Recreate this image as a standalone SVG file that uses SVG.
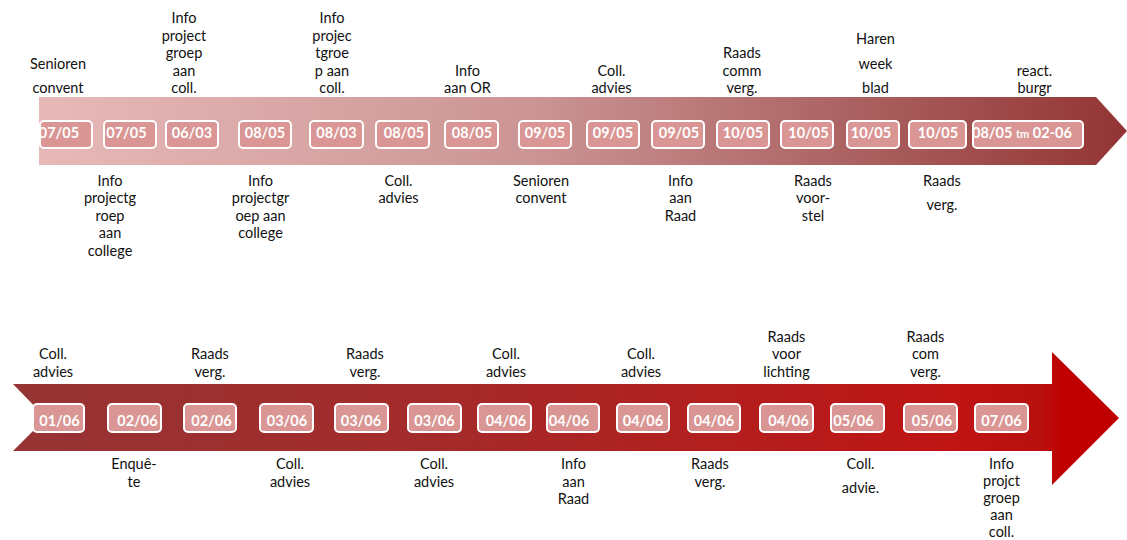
<svg xmlns="http://www.w3.org/2000/svg" width="1127" height="540" viewBox="0 0 1127 540">
<defs>
<linearGradient id="gTop" x1="39" y1="0" x2="1127" y2="0" gradientUnits="userSpaceOnUse">
<stop offset="0" stop-color="#e6b9b8"/>
<stop offset="0.45" stop-color="#cc9595"/>
<stop offset="0.7" stop-color="#b06a6a"/>
<stop offset="1" stop-color="#933434"/>
</linearGradient>
<linearGradient id="gBot" x1="13" y1="0" x2="1119" y2="0" gradientUnits="userSpaceOnUse">
<stop offset="0" stop-color="#963434"/>
<stop offset="0.4" stop-color="#a52a2a"/>
<stop offset="0.85" stop-color="#bf1414"/>
<stop offset="0.93" stop-color="#b80f0f"/>
<stop offset="0.95" stop-color="#c00000"/>
<stop offset="1" stop-color="#c00000"/>
</linearGradient>
<style>
.box{fill:#d99694;stroke:#ffffff;stroke-width:2}
.dt{font-family:Lato,"Open Sans",sans-serif;font-weight:bold;font-size:14.5px;fill:#ffffff;text-anchor:middle}
.lb{font-family:Lato,"Open Sans",sans-serif;font-size:14.5px;fill:#111111;text-anchor:middle}
</style>
</defs>
<rect width="1127" height="540" fill="#ffffff"/>
<g id="arrows">
<path d="M39,97 H1096 L1127,131 L1096,165 H39 Z" fill="url(#gTop)"/>
<path d="M13,384 H1052 V352 L1119,418 L1052,485 V451 H13 L46,418 Z" fill="url(#gBot)"/>
</g>
<g id="connectors"></g>
<!-- top row dates -->
<g id="t1"><rect class="box" x="40" y="121" width="52" height="27" rx="4"/><text class="dt" x="59" y="137.5">07/05</text></g>
<g id="t2"><rect class="box" x="104" y="121" width="52" height="27" rx="4"/><text class="dt" x="126.5" y="137.5">07/05</text></g>
<g id="t3"><rect class="box" x="166" y="121" width="52" height="27" rx="4"/><text class="dt" x="192" y="137.5">06/03</text></g>
<g id="t4"><rect class="box" x="239" y="121" width="52" height="27" rx="4"/><text class="dt" x="265" y="137.5">08/05</text></g>
<g id="t5"><rect class="box" x="310" y="121" width="53" height="27" rx="4"/><text class="dt" x="336.5" y="137.5">08/03</text></g>
<g id="t6"><rect class="box" x="376" y="121" width="53" height="27" rx="4"/><text class="dt" x="404" y="137.5">08/05</text></g>
<g id="t7"><rect class="box" x="445" y="121" width="53" height="27" rx="4"/><text class="dt" x="472" y="137.5">08/05</text></g>
<g id="t8"><rect class="box" x="519" y="121" width="52" height="27" rx="4"/><text class="dt" x="545" y="137.5">09/05</text></g>
<g id="t9"><rect class="box" x="587" y="121" width="52" height="27" rx="4"/><text class="dt" x="613" y="137.5">09/05</text></g>
<g id="t10"><rect class="box" x="652" y="121" width="52" height="27" rx="4"/><text class="dt" x="679" y="137.5">09/05</text></g>
<g id="t11"><rect class="box" x="717" y="121" width="52" height="27" rx="4"/><text class="dt" x="743" y="137.5">10/05</text></g>
<g id="t12"><rect class="box" x="781" y="121" width="52" height="27" rx="4"/><text class="dt" x="808.5" y="137.5">10/05</text></g>
<g id="t13"><rect class="box" x="847" y="121" width="52" height="27" rx="4"/><text class="dt" x="871" y="137.5">10/05</text></g>
<g id="t14"><rect class="box" x="909" y="121" width="57" height="27" rx="4"/><text class="dt" x="938" y="137.5">10/05</text></g>
<g id="t15"><rect class="box" x="973" y="121" width="110" height="27" rx="4"/><text class="dt" x="972" y="137.5" style="text-anchor:start">08/05 <tspan font-size="11">tm</tspan> 02-06</text></g>
<!-- bottom row dates -->
<g id="b1"><rect class="box" x="33" y="404" width="51" height="28" rx="4"/><text class="dt" x="59.5" y="425.5">01/06</text></g>
<g id="b2"><rect class="box" x="108" y="404" width="53" height="28" rx="4"/><text class="dt" x="137.5" y="425.5">02/06</text></g>
<g id="b3"><rect class="box" x="184" y="404" width="52" height="28" rx="4"/><text class="dt" x="211.5" y="425.5">02/06</text></g>
<g id="b4"><rect class="box" x="260" y="404" width="53" height="28" rx="4"/><text class="dt" x="287" y="425.5">03/06</text></g>
<g id="b5"><rect class="box" x="335" y="404" width="53" height="28" rx="4"/><text class="dt" x="361" y="425.5">03/06</text></g>
<g id="b6"><rect class="box" x="408" y="404" width="53" height="28" rx="4"/><text class="dt" x="434.5" y="425.5">03/06</text></g>
<g id="b7"><rect class="box" x="478" y="404" width="53" height="28" rx="4"/><text class="dt" x="506" y="425.5">04/06</text></g>
<g id="b8"><rect class="box" x="547" y="404" width="52" height="28" rx="4"/><text class="dt" x="569" y="425.5">04/06</text></g>
<g id="b9"><rect class="box" x="617" y="404" width="52" height="28" rx="4"/><text class="dt" x="643" y="425.5">04/06</text></g>
<g id="b10"><rect class="box" x="688" y="404" width="52" height="28" rx="4"/><text class="dt" x="714" y="425.5">04/06</text></g>
<g id="b11"><rect class="box" x="760" y="404" width="53" height="28" rx="4"/><text class="dt" x="788.5" y="425.5">04/06</text></g>
<g id="b12"><rect class="box" x="831" y="404" width="53" height="28" rx="4"/><text class="dt" x="853.5" y="425.5">05/06</text></g>
<g id="b13"><rect class="box" x="904" y="404" width="53" height="28" rx="4"/><text class="dt" x="932" y="425.5">05/06</text></g>
<g id="b14"><rect class="box" x="975" y="404" width="53" height="28" rx="4"/><text class="dt" x="1001.5" y="425.5">07/06</text></g>
<!-- labels above top arrow -->
<g id="la1"><text class="lb" x="58" y="69">Senioren</text><text class="lb" x="58" y="93.3">convent</text></g>
<g id="la2"><text class="lb" x="184" y="23.3">Info</text><text class="lb" x="184" y="40.8">project</text><text class="lb" x="184" y="58.3">groep</text><text class="lb" x="184" y="75.8">aan</text><text class="lb" x="184" y="93.3">coll.</text></g>
<g id="la3"><text class="lb" x="332" y="23.3">Info</text><text class="lb" x="332" y="40.8">projec</text><text class="lb" x="332" y="58.3">tgroe</text><text class="lb" x="332" y="75.8">p aan</text><text class="lb" x="332" y="93.3">coll.</text></g>
<g id="la4"><text class="lb" x="467.5" y="75.8">Info</text><text class="lb" x="467.5" y="93.3">aan OR</text></g>
<g id="la5"><text class="lb" x="611.5" y="75.8">Coll.</text><text class="lb" x="611.5" y="93.3">advies</text></g>
<g id="la6"><text class="lb" x="742" y="58.3">Raads</text><text class="lb" x="742" y="75.8">comm</text><text class="lb" x="742" y="93.3">verg.</text></g>
<g id="la7"><text class="lb" x="875.5" y="44.3">Haren</text><text class="lb" x="875.5" y="68.5">week</text><text class="lb" x="875.5" y="93.3">blad</text></g>
<g id="la8"><text class="lb" x="1034.5" y="75.8">react.</text><text class="lb" x="1034.5" y="93.3">burgr</text></g>
<!-- labels below top arrow -->
<g id="lb1"><text class="lb" x="110" y="185.7">Info</text><text class="lb" x="110" y="203.2">projectg</text><text class="lb" x="110" y="220.7">roep</text><text class="lb" x="110" y="238.2">aan</text><text class="lb" x="110" y="255.7">college</text></g>
<g id="lb2"><text class="lb" x="260.5" y="185.7">Info</text><text class="lb" x="260.5" y="203.2">projectgr</text><text class="lb" x="260.5" y="220.7">oep aan</text><text class="lb" x="260.5" y="238.2">college</text></g>
<g id="lb3"><text class="lb" x="398.5" y="185.7">Coll.</text><text class="lb" x="398.5" y="203.2">advies</text></g>
<g id="lb4"><text class="lb" x="541" y="185.7">Senioren</text><text class="lb" x="541" y="203.2">convent</text></g>
<g id="lb5"><text class="lb" x="680.5" y="185.7">Info</text><text class="lb" x="680.5" y="203.2">aan</text><text class="lb" x="680.5" y="220.7">Raad</text></g>
<g id="lb6"><text class="lb" x="813" y="185.7">Raads</text><text class="lb" x="813" y="203.2">voor-</text><text class="lb" x="813" y="220.7">stel</text></g>
<g id="lb7"><text class="lb" x="942" y="185.7">Raads</text><text class="lb" x="942" y="209.5">verg.</text></g>
<!-- labels above bottom arrow -->
<g id="lc1"><text class="lb" x="53" y="359.3">Coll.</text><text class="lb" x="53" y="376.7">advies</text></g>
<g id="lc2"><text class="lb" x="210" y="359.3">Raads</text><text class="lb" x="210" y="376.7">verg.</text></g>
<g id="lc3"><text class="lb" x="365" y="359.3">Raads</text><text class="lb" x="365" y="376.7">verg.</text></g>
<g id="lc4"><text class="lb" x="506" y="359.3">Coll.</text><text class="lb" x="506" y="376.7">advies</text></g>
<g id="lc5"><text class="lb" x="641" y="359.3">Coll.</text><text class="lb" x="641" y="376.7">advies</text></g>
<g id="lc6"><text class="lb" x="786.5" y="341.7">Raads</text><text class="lb" x="786.5" y="359.2">voor</text><text class="lb" x="786.5" y="376.7">lichting</text></g>
<g id="lc7"><text class="lb" x="925.5" y="341.7">Raads</text><text class="lb" x="925.5" y="359.2">com</text><text class="lb" x="925.5" y="376.7">verg.</text></g>
<!-- labels below bottom arrow -->
<g id="ld1"><text class="lb" x="134" y="469.3">Enquê-</text><text class="lb" x="134" y="486.7">te</text></g>
<g id="ld2"><text class="lb" x="290" y="469.3">Coll.</text><text class="lb" x="290" y="486.7">advies</text></g>
<g id="ld3"><text class="lb" x="434" y="469.3">Coll.</text><text class="lb" x="434" y="486.7">advies</text></g>
<g id="ld4"><text class="lb" x="573.5" y="469.3">Info</text><text class="lb" x="573.5" y="486.7">aan</text><text class="lb" x="573.5" y="504.2">Raad</text></g>
<g id="ld5"><text class="lb" x="710" y="469.3">Raads</text><text class="lb" x="710" y="486.7">verg.</text></g>
<g id="ld6"><text class="lb" x="860.5" y="469.3">Coll.</text><text class="lb" x="860.5" y="492.7">advie.</text></g>
<g id="ld7"><text class="lb" x="1001.5" y="468.5">Info</text><text class="lb" x="1001.5" y="485.7">projct</text><text class="lb" x="1001.5" y="502.9">groep</text><text class="lb" x="1001.5" y="520.1">aan</text><text class="lb" x="1001.5" y="536.5">coll.</text></g>
</svg>
